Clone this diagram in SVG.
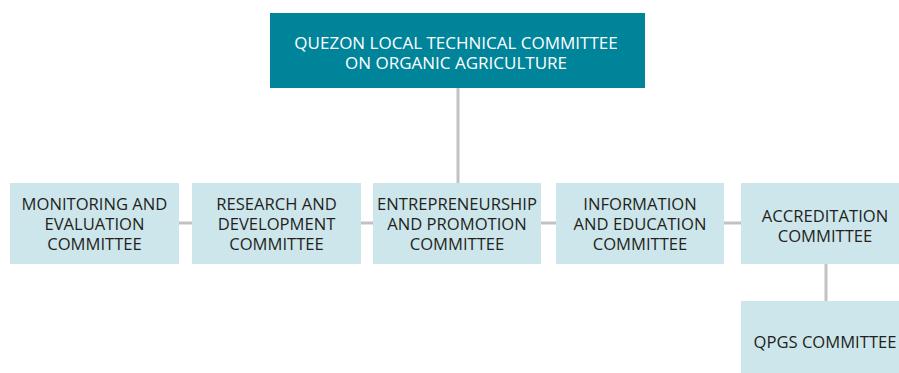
<svg xmlns="http://www.w3.org/2000/svg" width="899" height="373" viewBox="0 0 899 373">
<style>
.box{fill:#cde6eb}
.top{fill:#00849a}
.t{font-family:"Open Sans","Noto Sans",sans-serif;font-size:16.6px;fill:#231f20;text-anchor:middle}
.tw{font-family:"Open Sans","Noto Sans",sans-serif;font-size:17px;fill:#ffffff;text-anchor:middle}
.c{stroke:#c2c2c6;stroke-width:3;fill:none}
</style>
<rect width="899" height="373" fill="#ffffff"/>
<g id="connectors">
<line class="c" x1="458" y1="88" x2="458" y2="183"/>
<line class="c" x1="179" y1="223" x2="192" y2="223"/>
<line class="c" x1="361" y1="223" x2="373" y2="223"/>
<line class="c" x1="541" y1="223" x2="556" y2="223"/>
<line class="c" x1="724" y1="223" x2="741" y2="223"/>
<line class="c" x1="826" y1="264" x2="826" y2="301"/>
</g>
<g id="n-quezon">
<rect class="top" x="270" y="13" width="375" height="75"/>
<text class="tw" x="456" y="49">QUEZON LOCAL TECHNICAL COMMITTEE</text>
<text class="tw" x="456" y="69">ON ORGANIC AGRICULTURE</text>
</g>
<g id="n-monitoring">
<rect class="box" x="10" y="183" width="169" height="81"/>
<text class="t" x="94.5" y="209.5">MONITORING AND</text>
<text class="t" x="94.5" y="229.5">EVALUATION</text>
<text class="t" x="94.5" y="249.5">COMMITTEE</text>
</g>
<g id="n-research">
<rect class="box" x="192" y="183" width="169" height="81"/>
<text class="t" x="276.5" y="209.5">RESEARCH AND</text>
<text class="t" x="276.5" y="229.5">DEVELOPMENT</text>
<text class="t" x="276.5" y="249.5">COMMITTEE</text>
</g>
<g id="n-entrepreneurship">
<rect class="box" x="373" y="183" width="168" height="81"/>
<text class="t" x="457" y="209.5">ENTREPRENEURSHIP</text>
<text class="t" x="457" y="229.5">AND PROMOTION</text>
<text class="t" x="457" y="249.5">COMMITTEE</text>
</g>
<g id="n-information">
<rect class="box" x="556" y="183" width="168" height="81"/>
<text class="t" x="640" y="209.5">INFORMATION</text>
<text class="t" x="640" y="229.5">AND EDUCATION</text>
<text class="t" x="640" y="249.5">COMMITTEE</text>
</g>
<g id="n-accreditation">
<rect class="box" x="741" y="183" width="158" height="81"/>
<text class="t" x="825" y="221.5">ACCREDITATION</text>
<text class="t" x="825" y="241.5">COMMITTEE</text>
</g>
<g id="n-qpgs">
<rect class="box" x="741" y="301" width="158" height="72"/>
<text class="t" x="825" y="348">QPGS COMMITTEE</text>
</g>
</svg>
